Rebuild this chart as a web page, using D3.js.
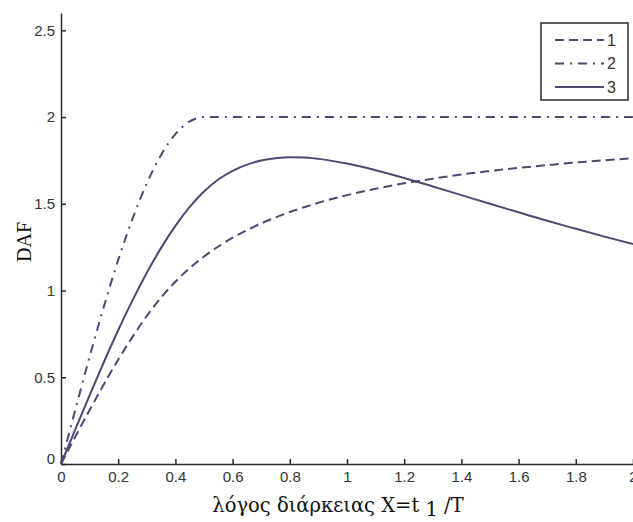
<!DOCTYPE html>
<html><head><meta charset="utf-8">
<script src="https://cdn.jsdelivr.net/npm/d3@7"></script>
<style>html,body{margin:0;padding:0;background:#fff;}svg{display:block;}</style>
</head><body><svg id="c" width="633" height="522"></svg>
<script>
// Data
const xValues = [0, 0.05, 0.1, 0.15, 0.2, 0.25, 0.3, 0.35, 0.4, 0.45, 0.5, 0.55, 0.6, 0.65, 0.7, 0.75, 0.8, 0.85, 0.9, 1.0, 1.1, 1.2, 1.3, 1.4, 1.5, 1.6, 1.7, 1.8, 1.9, 2.0];
const series1 = [0, 0.157, 0.311, 0.46, 0.601, 0.733, 0.853, 0.96, 1.051, 1.129, 1.196, 1.254, 1.305, 1.348, 1.387, 1.421, 1.453, 1.48, 1.506, 1.55, 1.587, 1.618, 1.645, 1.669, 1.689, 1.707, 1.723, 1.738, 1.751, 1.763];
const series2 = [0, 0.313, 0.618, 0.908, 1.176, 1.414, 1.618, 1.782, 1.902, 1.975, 2.0, 2.0, 2.0, 2.0, 2.0, 2.0, 2.0, 2.0, 2.0, 2.0, 2.0, 2.0, 2.0, 2.0, 2.0, 2.0, 2.0, 2.0, 2.0, 2.0];
const series3 = [0, 0.2, 0.396, 0.588, 0.771, 0.943, 1.102, 1.246, 1.373, 1.482, 1.571, 1.64, 1.69, 1.726, 1.75, 1.763, 1.768, 1.767, 1.759, 1.732, 1.694, 1.649, 1.6, 1.55, 1.5, 1.451, 1.402, 1.356, 1.311, 1.268];
const seriesNames = ["1", "2", "3"];
const xTicks = [0, 0.2, 0.4, 0.6, 0.8, 1, 1.2, 1.4, 1.6, 1.8, 2];
const yTicks = [0, 0.5, 1, 1.5, 2, 2.5];

const svg = d3.select("#c");
const x = d3.scaleLinear().domain([0, 2]).range([61, 633]);
const y = d3.scaleLinear().domain([0, 2.6]).range([464, 13]);
const lineColor = "#4a4a72";
const axisColor = "#2a2a2a";
const tickFont = "'Liberation Sans', Arial, sans-serif";

// X axis
const gx = svg.append("g").attr("transform", `translate(0,${y(0)})`)
  .call(d3.axisBottom(x).tickValues(xTicks).tickSizeInner(-5).tickSizeOuter(0).tickPadding(7)
    .tickFormat(d => d3.format("~g")(d)));
gx.select(".domain").attr("stroke", axisColor).attr("stroke-width", 1.5);
gx.selectAll(".tick line").attr("stroke", axisColor).attr("stroke-width", 1.5);
gx.selectAll(".tick text").attr("fill", "#333").attr("font-family", tickFont).attr("font-size", 15);

// Y axis
const gy = svg.append("g").attr("transform", `translate(${x(0)},0)`)
  .call(d3.axisLeft(y).tickValues(yTicks).tickSizeInner(-5).tickSizeOuter(0).tickPadding(6)
    .tickFormat(d => d3.format("~g")(d)));
gy.select(".domain").attr("stroke", axisColor).attr("stroke-width", 1.5);
gy.selectAll(".tick line").attr("stroke", axisColor).attr("stroke-width", 1.5);
gy.selectAll(".tick text").attr("fill", "#333").attr("font-family", tickFont).attr("font-size", 15);
gy.selectAll(".tick").filter(d => d === 0).select("text").attr("dy", "-0.05em");

// Lines
const data = [series1, series2, series3];
const dashes = ["9,5", "9,6,2,6", null];
const line = d3.line().x((d, i) => x(xValues[i])).y(d => y(d)).curve(d3.curveMonotoneX);
data.forEach((s, k) => {
  svg.append("path").datum(s).attr("d", line)
    .attr("fill", "none").attr("stroke", lineColor).attr("stroke-width", 2)
    .attr("stroke-dasharray", dashes[k]);
});

// Legend
const lg = svg.append("g");
lg.append("rect").attr("x", 541).attr("y", 23).attr("width", 87).attr("height", 77)
  .attr("fill", "#fff").attr("stroke", axisColor).attr("stroke-width", 1.5);
seriesNames.forEach((n, k) => {
  const yy = 40 + k * 23.5;
  lg.append("line").attr("x1", 555).attr("x2", 604).attr("y1", yy).attr("y2", yy)
    .attr("stroke", lineColor).attr("stroke-width", 2).attr("stroke-dasharray", dashes[k]);
  lg.append("text").attr("x", 607).attr("y", yy).attr("dy", "0.36em")
    .attr("font-family", tickFont).attr("font-size", 16).attr("fill", "#333").text(n);
});

// Axis titles
svg.append("text").attr("transform", "translate(31,242) rotate(-90)")
  .attr("text-anchor", "middle").attr("font-family", "'Liberation Serif', 'Times New Roman', serif")
  .attr("font-size", 20).attr("fill", "#111").text("DAF");

const xt = svg.append("text").attr("x", 338).attr("y", 512).attr("text-anchor", "middle")
  .attr("font-family", "'DejaVu Serif', 'Liberation Serif', serif").attr("font-size", 19.5).attr("fill", "#111");
xt.append("tspan").text("λόγος διάρκειας X=t");
xt.append("tspan").attr("dy", 4).text(" 1");
xt.append("tspan").attr("dy", -4).text(" /T");
</script></body></html>
